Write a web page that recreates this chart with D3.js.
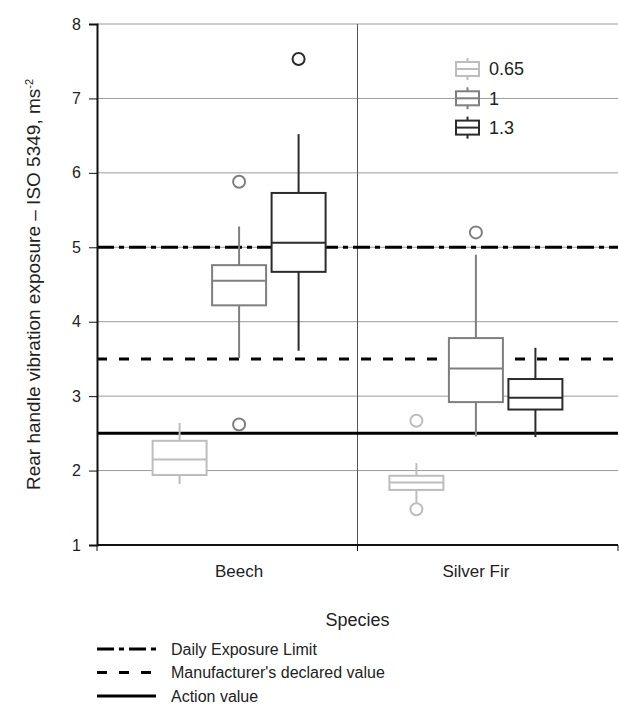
<!DOCTYPE html>
<html><head><meta charset="utf-8">
<script src="https://cdn.jsdelivr.net/npm/d3@7"></script>
<style>
body{margin:0;background:#fff}
text{font-family:"Liberation Sans Narrow","Arial Narrow","Liberation Sans",Arial,sans-serif;fill:#222}
</style>
</head><body><svg id="chart" width="619" height="705"></svg>
<script>
const species = ["Beech", "Silver Fir"];
const seriesNames = ["0.65", "1", "1.3"];
const seriesColors = ["#bdbdbd", "#7f7f7f", "#2b2b2b"];
const yTicks = [1, 2, 3, 4, 5, 6, 7, 8];
// [whiskerLow, Q1, median, Q3, whiskerHigh] for Beech, Silver Fir
const box065 = [[1.82, 1.94, 2.15, 2.40, 2.64], [1.57, 1.74, 1.84, 1.93, 2.10]];
const box1   = [[3.51, 4.22, 4.55, 4.76, 5.28], [2.46, 2.92, 3.37, 3.78, 4.90]];
const box13  = [[3.61, 4.67, 5.06, 5.73, 6.52], [2.45, 2.82, 2.98, 3.23, 3.65]];
const outliers065 = [[], [2.67, 1.48]];
const outliers1   = [[5.88, 2.62], [5.20]];
const outliers13  = [[7.53], []];
const refNames = ["Daily Exposure Limit", "Manufacturer's declared value", "Action value"];
const refValues = [5, 3.5, 2.5];
const refDashes = ["17,5,5,5", "10,12", null];
const yTitle = "Rear handle vibration exposure \u2013 ISO 5349, ms";
const yTitleSup = "-2";
const xTitle = "Species";

const boxes = [box065, box1, box13];
const outs = [outliers065, outliers1, outliers13];

const svg = d3.select("#chart");
const L = 97, R = 618, T = 24, B = 545;
const x = d3.scalePoint().domain(species).range([L, R]).padding(0.6);
const off = d3.scalePoint().domain(seriesNames).range([-59.5, 59.5]);
const y = d3.scaleLinear().domain([1, 8]).range([B, T]);
const boxW = 54;
const color = d3.scaleOrdinal().domain(seriesNames).range(seriesColors);

// gridlines
svg.append("g").selectAll("line").data(yTicks.filter(d => d > 1)).join("line")
  .attr("x1", L).attr("x2", R).attr("y1", d => y(d)).attr("y2", d => y(d))
  .attr("stroke", "#9a9a9a").attr("stroke-width", 1);

// divider
const mid = (x(species[0]) + x(species[1])) / 2;
svg.append("line").attr("x1", mid).attr("x2", mid).attr("y1", T).attr("y2", B)
  .attr("stroke", "#555").attr("stroke-width", 1);

// reference lines
svg.append("g").selectAll("line").data(refValues).join("line")
  .attr("x1", L).attr("x2", R).attr("y1", d => y(d)).attr("y2", d => y(d))
  .attr("stroke", "#000").attr("stroke-width", 3)
  .attr("stroke-dasharray", (d, i) => refDashes[i]);

// boxes
seriesNames.forEach((s, si) => {
  const g = svg.append("g");
  species.forEach((sp, ci) => {
    const b = boxes[si][ci];
    const cx = x(sp) + off(s);
    const c = color(s);
    g.append("line").attr("x1", cx).attr("x2", cx).attr("y1", y(b[0])).attr("y2", y(b[4]))
      .attr("stroke", c).attr("stroke-width", 2);
    g.append("rect").attr("x", cx - boxW / 2).attr("width", boxW)
      .attr("y", y(b[3])).attr("height", y(b[1]) - y(b[3]))
      .attr("fill", "#fff").attr("stroke", c).attr("stroke-width", 2);
    g.append("line").attr("x1", cx - boxW / 2).attr("x2", cx + boxW / 2)
      .attr("y1", y(b[2])).attr("y2", y(b[2])).attr("stroke", c).attr("stroke-width", 2);
    g.selectAll(null).data(outs[si][ci]).join("circle")
      .attr("cx", cx).attr("cy", d => y(d)).attr("r", 6)
      .attr("fill", "#fff").attr("stroke", c).attr("stroke-width", 2);
  });
});

// y axis
const ya = svg.append("g").attr("transform", `translate(${L},0)`)
  .call(d3.axisLeft(y).tickValues(yTicks).tickSize(8).tickPadding(8).tickFormat(d3.format("d")));
ya.select(".domain").attr("stroke", "#111").attr("stroke-width", 2);
ya.selectAll(".tick line").attr("stroke", "#111").attr("stroke-width", 1);
ya.selectAll(".tick text").style("font-size", "16px").attr("fill", "#222");

// x axis line + boundary ticks
svg.append("line").attr("x1", L).attr("x2", R).attr("y1", B).attr("y2", B)
  .attr("stroke", "#111").attr("stroke-width", 2);
svg.append("g").selectAll("line").data([L, mid, R]).join("line")
  .attr("x1", d => d).attr("x2", d => d).attr("y1", B).attr("y2", B + 6)
  .attr("stroke", "#111").attr("stroke-width", 1);
svg.append("g").selectAll("text").data(species).join("text")
  .attr("x", d => x(d)).attr("y", 577).attr("text-anchor", "middle")
  .style("font-size", "17px").text(d => d);

// axis titles
svg.append("text").attr("x", (L + R) / 2).attr("y", 626).attr("text-anchor", "middle")
  .style("font-size", "18px").text(xTitle);
const yt = svg.append("text").attr("transform", `translate(40,${(T + B) / 2}) rotate(-90)`)
  .attr("text-anchor", "middle").style("font-size", "19px");
yt.append("tspan").text(yTitle);
yt.append("tspan").attr("dy", -7).style("font-size", "11px").text(yTitleSup);

// series legend
const lg = svg.append("g");
seriesNames.forEach((s, i) => {
  const cy = 69 + i * 29.3, c = color(s), lx = 456, lw = 23;
  lg.append("line").attr("x1", lx + lw / 2).attr("x2", lx + lw / 2).attr("y1", cy - 11).attr("y2", cy + 11)
    .attr("stroke", c).attr("stroke-width", 2);
  lg.append("rect").attr("x", lx).attr("y", cy - 7).attr("width", lw).attr("height", 14)
    .attr("fill", "#fff").attr("stroke", c).attr("stroke-width", 2);
  lg.append("line").attr("x1", lx).attr("x2", lx + lw).attr("y1", cy).attr("y2", cy)
    .attr("stroke", c).attr("stroke-width", 2);
  lg.append("text").attr("x", 489).attr("y", cy).attr("dy", "0.36em")
    .style("font-size", "18px").text(s);
});

// reference legend
refNames.forEach((n, i) => {
  const cy = 649 + i * 23.5;
  svg.append("line").attr("x1", 97).attr("x2", 156).attr("y1", cy).attr("y2", cy)
    .attr("stroke", "#000").attr("stroke-width", 3).attr("stroke-dasharray", refDashes[i]);
  svg.append("text").attr("x", 171).attr("y", cy).attr("dy", "0.36em")
    .style("font-size", "16px").text(n);
});
</script>
</body></html>
